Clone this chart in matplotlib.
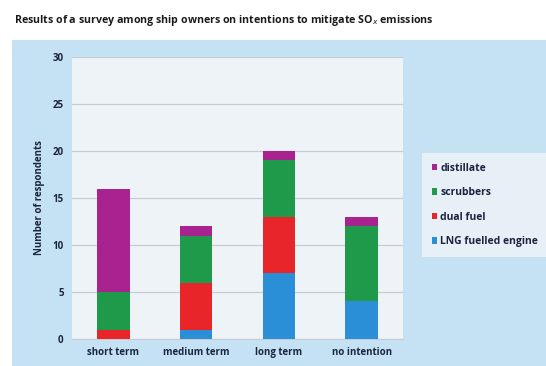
import numpy as np
import matplotlib.pyplot as plt
from matplotlib.patches import Rectangle

categories = ["short term", "medium term", "long term", "no intention"]
lng = [0, 1, 7, 4]
dual_fuel = [1, 5, 6, 0]
scrubbers = [4, 5, 6, 8]
distillate = [11, 1, 1, 1]

series = [("LNG fuelled engine", lng, "#2a8fd6"),
          ("dual fuel", dual_fuel, "#e8262a"),
          ("scrubbers", scrubbers, "#1f9a4a"),
          ("distillate", distillate, "#a8238f")]

plt.rcParams['font.family'] = ['Open Sans', 'DejaVu Sans']
text_col = "#1c2540"

fig = plt.figure(figsize=(5.46, 3.66), dpi=100)
fig.patch.set_facecolor("white")
# light blue chart panel behind the axes
fig.patches.append(Rectangle((12 / 546, 0), 1, (366 - 40) / 366, transform=fig.transFigure,
                             facecolor="#c4e2f3", edgecolor="none", zorder=-5))

ax = fig.add_axes([72 / 546, 27 / 366, 331 / 546, 282 / 366])
ax.set_zorder(2)
ax.set_facecolor("#eef3f8")

x = np.arange(len(categories))
bottom = np.zeros(len(categories))
handles = []
for name, vals, col in series:
    b = ax.bar(x, vals, width=0.39, bottom=bottom, color=col, label=name, zorder=3)
    bottom += np.array(vals)
    handles.append(b)

ax.set_ylim(0, 30)
ax.set_xlim(-0.5, 3.5)
ax.set_yticks(range(0, 31, 5))
ax.yaxis.grid(True, color="#c8ccd2", linewidth=0.9, zorder=0)
ax.set_axisbelow(True)
ax.set_xticks(x)
ax.set_xticklabels(categories)
for s in ["top", "right", "left"]:
    ax.spines[s].set_visible(False)
ax.spines["bottom"].set_color("#c8ccd2")
ax.tick_params(length=0, labelsize=7, colors=text_col, pad=6)
for lbl in ax.get_xticklabels() + ax.get_yticklabels():
    lbl.set_fontweight("bold")
ax.set_ylabel("Number of respondents", fontsize=7, fontweight="bold", color=text_col, labelpad=5)

fig.text(14 / 546, 1 - 20 / 366,
         "Results of a survey among ship owners on intentions to mitigate SO$_x$ emissions",
         fontsize=7.7, fontweight="bold", color="#1a1a1a", va="center")

leg = ax.legend(handles[::-1], [s[0] for s in series][::-1],
                loc="center left", bbox_to_anchor=(417 / 546, 1 - 205 / 366),
                bbox_transform=fig.transFigure, frameon=True, fontsize=7.5,
                handlelength=0.55, handleheight=0.55, handletextpad=0.3,
                labelspacing=1.3, borderpad=0.9, fancybox=False)
leg.get_frame().set_facecolor("#f1f4f8")
leg.get_frame().set_edgecolor("none")
for t in leg.get_texts():
    t.set_color(text_col)
    t.set_fontweight("bold")

fig.savefig("out.png", dpi=100)
